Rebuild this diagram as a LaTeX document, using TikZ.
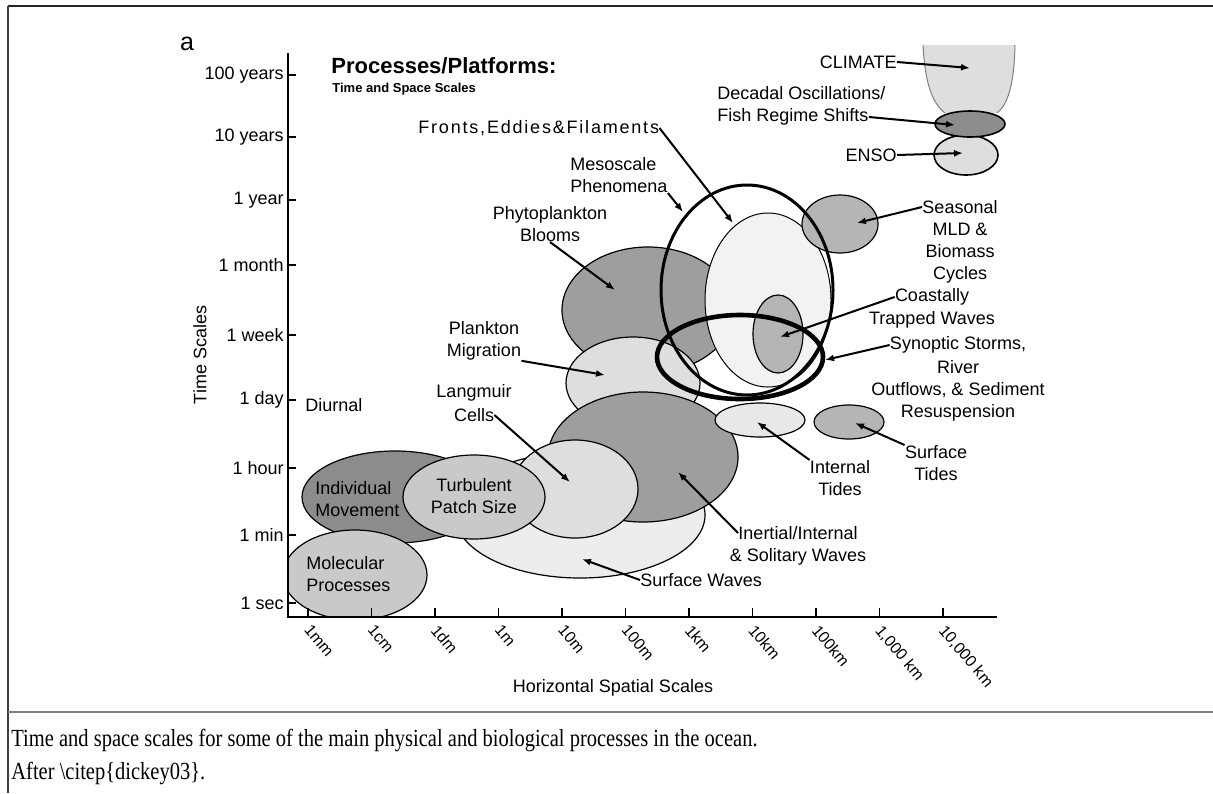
\documentclass[tikz,border=0pt]{standalone}
\usepackage{fontspec}
\setmainfont{Liberation Serif}
\newfontfamily\arialfont{Liberation Sans}
\usepackage{xcolor}
\usepackage{tikz}
\usetikzlibrary{arrows.meta}

\definecolor{wavegray}{gray}{0.93}
\definecolor{frontgray}{gray}{0.95}
\definecolor{palegray}{gray}{0.87}
\definecolor{lightgray}{gray}{0.79}
\definecolor{midgray}{gray}{0.71}
\definecolor{darkgray}{gray}{0.62}
\definecolor{deepgray}{gray}{0.55}

\begin{document}
\begin{tikzpicture}[x=0.5pt,y=-0.5pt,
    lab/.style={font=\arialfont\fontsize{9}{11}\selectfont, inner sep=0pt, align=center},
    ticklab/.style={font=\arialfont\fontsize{9}{11}\selectfont, inner sep=0pt, anchor=east},
    xlab/.style={font=\arialfont\fontsize{8}{9}\selectfont, inner sep=0pt, rotate=-50, anchor=north west},
    caplab/.style={anchor=base west, inner sep=0pt, font=\fontsize{10.25}{12}\selectfont},
    blob/.style={draw=black, line width=0.6pt},
    arr/.style={line width=1pt, -{Latex[length=4.5pt,width=3.5pt]}}]
  \useasboundingbox (0,0) rectangle (1213,793);

  % frame and caption
  \draw[line width=1pt, black!85] (8,6) -- (1213,6);
  \draw[line width=0.8pt, black!75] (8,6) -- (8,793);
  \draw[line width=1.2pt, black!50] (8,712) -- (1213,712);
  \node[caplab] (cap1) at (11,746)
    {\scalebox{1}[1.2]{Time and space scales for some of the main physical and biological processes in the ocean.}};
  \node[caplab] (cap2) at (11,779)
    {\scalebox{1}[1.2]{After \textbackslash citep\{dickey03\}.}};

  % centres of the blobs
  \coordinate (swaves) at (580,515);
  \coordinate (phyto) at (648,310);
  \coordinate (pmig) at (633,383);
  \coordinate (inertial) at (643,457);
  \coordinate (langmuir) at (575,489);
  \coordinate (indiv) at (395,497);
  \coordinate (turb) at (474,497);
  \coordinate (molec) at (355,575);
  \coordinate (fronts) at (768,300);
  \coordinate (coastal) at (778,334);
  \coordinate (seasonal) at (840,224);
  \coordinate (meso) at (747,290);
  \coordinate (synoptic) at (740,357);
  \coordinate (intide) at (760,420);
  \coordinate (sftide) at (849,422);
  \coordinate (enso) at (966,155);
  \coordinate (decadal) at (970,124);

  % climate funnel
  \fill[palegray] (923,45) .. controls (925,85) and (933,104) .. (945,113) -- (997,113)
    .. controls (1008,104) and (1014,85) .. (1015,45) -- cycle;
  \draw[gray, line width=0.5pt] (923,45) .. controls (925,85) and (933,104) .. (945,113);
  \draw[gray, line width=0.5pt] (997,113) .. controls (1008,104) and (1014,85) .. (1015,45);

  % blobs, back to front
  \filldraw[blob, fill=wavegray] (swaves) ellipse [x radius=125, y radius=63];
  \filldraw[blob, fill=darkgray] (phyto) ellipse [x radius=86, y radius=63];
  \filldraw[blob, fill=frontgray, line width=0.5pt] (fronts) ellipse [x radius=63, y radius=87];
  \filldraw[blob, fill=palegray] (pmig) ellipse [x radius=67, y radius=46];
  \filldraw[blob, fill=darkgray] (inertial) ellipse [x radius=95, y radius=65];
  \filldraw[blob, fill=palegray] (langmuir) ellipse [x radius=63, y radius=49];
  \filldraw[blob, fill=deepgray] (indiv) ellipse [x radius=93, y radius=46];
  \filldraw[blob, fill=lightgray] (turb) ellipse [x radius=71, y radius=42];
  \begin{scope}
    \clip (288,0) rectangle (1000,617);
    \filldraw[blob, fill=lightgray] (molec) ellipse [x radius=72, y radius=45];
  \end{scope}
  \filldraw[blob, fill=midgray] (coastal) ellipse [x radius=25, y radius=39];
  \filldraw[blob, fill=midgray] (seasonal) ellipse [x radius=38, y radius=29];
  \draw[line width=1.5pt] (meso) ellipse [x radius=86, y radius=105];
  \draw[line width=2.3pt] (synoptic) ellipse [x radius=83, y radius=42];
  \filldraw[blob, fill=palegray!70!white] (intide) ellipse [x radius=45, y radius=17];
  \filldraw[blob, fill=midgray] (sftide) ellipse [x radius=35, y radius=17];
  \filldraw[blob, fill=palegray, line width=0.8pt] (enso) ellipse [x radius=32, y radius=20];
  \filldraw[blob, fill=deepgray, line width=0.8pt] (decadal) ellipse [x radius=35, y radius=13];

  % axes
  \draw[line width=0.8pt] (288,53) -- (288,617) -- (997,617);
  \foreach \y/\t in {75/100 years,137/10 years,200/1 year,265/1 month,335/1 week,
      400/1 day,468/1 hour,535/1 min,603/1 sec}{
    \draw[line width=0.8pt] (288,\y) -- (296,\y);
    \node[ticklab] (yt\y) at (284,\y) {\t};
  }
  \foreach \t [count=\i from 0] in {1mm,1cm,1dm,1m,10m,100m,1km,10km,100km,{1,000 km},{10,000 km}}{
    \pgfmathsetmacro\xx{308+63.5*\i}
    \draw[line width=0.8pt] (\xx,608) -- (\xx,617);
    \node[xlab] (xt\i) at (\xx+4,623) {\t};
  }
  \node[lab, rotate=90] (ytitle) at (200,355) {Time Scales};
  \node[lab] (xtitle) at (613,688) {Horizontal Spatial Scales};
  \node[lab, anchor=west] (diurnal) at (305,405) {Diurnal};

  % titles
  \node[inner sep=0pt, font=\arialfont\fontsize{12.5}{14}\selectfont] (panel) at (187,44) {a};
  \node[inner sep=0pt, anchor=west, font=\arialfont\bfseries\fontsize{11}{13}\selectfont] (title) at (331,66) {Processes/Platforms:};
  \node[inner sep=0pt, anchor=west, font=\arialfont\bfseries\fontsize{6.5}{8}\selectfont] (subtitle) at (332,89) {Time and Space Scales};

  % labels inside blobs
  \node[lab, align=left, anchor=west] (indivlab) at (315,499) {Individual\\Movement};
  \node[lab] (turblab) at (474,496) {Turbulent\\Patch Size};
  \node[lab, align=left, anchor=west] (moleclab) at (306,574) {Molecular\\Processes};

  % labels with arrows
  \node[lab, anchor=east] (climatelab) at (897,62) {CLIMATE};
  \node[lab, anchor=west] (decadallab) at (717,93) {Decadal Oscillations/};
  \node[lab, anchor=west] (fishlab) at (717,117) {Fish Regime Shifts};
  \node[lab, anchor=east] (ensolab) at (897,155) {ENSO};
  \node[lab] (seasonallab) at (960,207) {Seasonal};
  \node[lab] (cycleslab) at (960,253) {MLD \&\\Biomass\\Cycles};
  \node[lab, anchor=west, font=\arialfont\addfontfeature{LetterSpace=10}\fontsize{9}{11}\selectfont] (frontslab) at (418,128) {Fronts,Eddies\&Filaments};
  \node[lab, align=left, anchor=west] (mesolab) at (570,175) {Mesoscale\\Phenomena};
  \node[lab] (phytolab) at (550,224) {Phytoplankton\\Blooms};
  \node[lab] (coastallab) at (932,297) {Coastally};
  \node[lab] (trappedlab) at (932,320) {Trapped Waves};
  \node[lab] (synopticlab) at (958,345) {Synoptic Storms,};
  \node[lab] (riverlab) at (958,391) {River\\Outflows, \& Sediment\\Resuspension};
  \node[lab] (pmiglab) at (484,341) {Plankton\\Migration};
  \node[lab] (langmuirlab) at (474,393) {Langmuir};
  \node[lab] (cellslab) at (474,415) {Cells};
  \node[lab] (intidelab) at (840,478) {Internal\\Tides};
  \node[lab] (sftidelab) at (936,463) {Surface\\Tides};
  \node[lab] (inertiallab) at (798,533) {Inertial/Internal};
  \node[lab] (solitarylab) at (798,557) {\& Solitary Waves};
  \node[lab, anchor=west] (swaveslab) at (640,580) {Surface Waves};

  % arrow tips
  \coordinate (climatetip) at (970,68);
  \coordinate (decadaltip) at (955,125);
  \coordinate (ensotip) at (963,153);
  \coordinate (seasonaltip) at (857,223);
  \coordinate (frontstip) at (733,223);
  \coordinate (mesotip) at (683,212);
  \coordinate (phytotip) at (615,290);
  \coordinate (coastaltip) at (780,337);
  \coordinate (synoptictip) at (825,360);
  \coordinate (pmigtip) at (605,375);
  \coordinate (langmuirtip) at (570,482);
  \coordinate (intidetip) at (757,422);
  \coordinate (sftidetip) at (855,423);
  \coordinate (inertialtip) at (678,472);
  \coordinate (swavestip) at (582,559);

  \draw[arr] (climatelab.east) -- (climatetip);
  \draw[arr] (fishlab.east) -- (decadaltip);
  \draw[arr] (ensolab.east) -- (ensotip);
  \draw[arr] (seasonallab.west) -- (seasonaltip);
  \draw[arr] (frontslab.east) -- (frontstip);
  \draw[arr] (mesolab.south east) -- (mesotip);
  \draw[arr] (phytolab.south) -- (phytotip);
  \draw[arr] (coastallab.west) -- (coastaltip);
  \draw[arr] (synopticlab.west) -- (synoptictip);
  \draw[arr] (pmiglab.south east) -- (pmigtip);
  \draw[arr] (cellslab.east) -- (langmuirtip);
  \draw[arr] (intidelab.north west) -- (intidetip);
  \draw[arr] (sftidelab.north west) -- (sftidetip);
  \draw[arr] (inertiallab.west) -- (inertialtip);
  \draw[arr] (swaveslab.west) -- (swavestip);
\end{tikzpicture}
\end{document}
